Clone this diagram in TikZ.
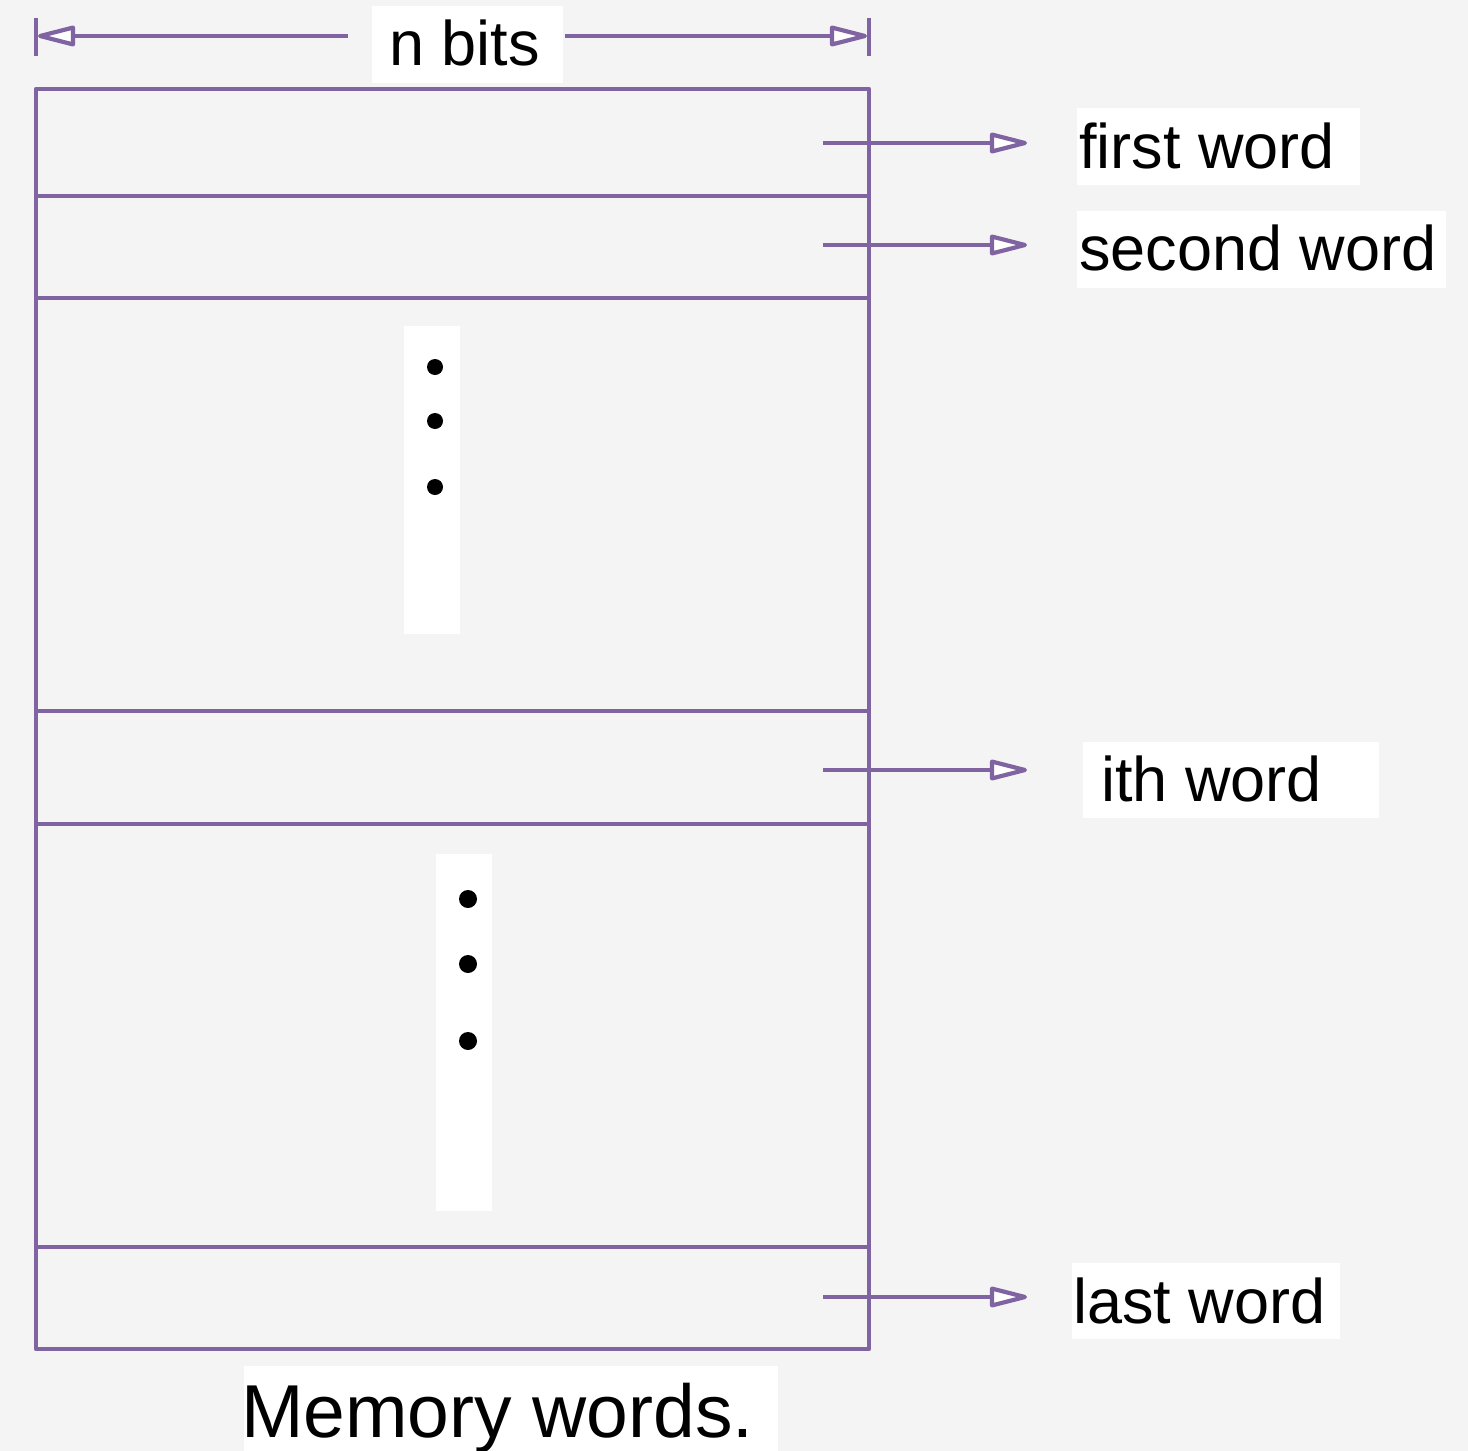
\documentclass[tikz,border=0pt]{standalone}
\usepackage{fontspec}
\setmainfont{Liberation Sans}
\usetikzlibrary{arrows.meta}
\definecolor{bg}{HTML}{F4F4F4}
\definecolor{pur}{HTML}{8064A2}
\begin{document}
\begin{tikzpicture}[x=1pt,y=-1pt,
  ln/.style={draw=pur,line width=4.2pt,line join=round},
  tip/.style={-{Triangle[length=44pt,width=21pt,fill=white,line join=round]}},
  lbl/.style={anchor=base west,inner sep=0pt,font=\fontsize{63}{70}\selectfont},
  wbox/.style={fill=white}]
\fill[bg] (0,0) rectangle (1468,1451);
\useasboundingbox (0,0) rectangle (1468,1451);
% white label backgrounds
\fill[wbox] (372,6) rectangle (563,83);
\fill[wbox] (1077,108) rectangle (1360,185);
\fill[wbox] (1077,211) rectangle (1446,288);
\fill[wbox] (1083,742) rectangle (1379,818);
\fill[wbox] (1072,1263) rectangle (1340,1339);
\fill[wbox] (244,1366) rectangle (778,1451);
\fill[wbox] (404,326) rectangle (460,634);
\fill[wbox] (436,854) rectangle (492,1211);
% memory box
\draw[ln] (36,89) rectangle (869,1349);
\foreach \y in {196,298,711,824,1247} \draw[ln] (36,\y) -- (869,\y);
% dimension
\coordinate (tl) at (38,36);
\coordinate (tr) at (867,36);
\coordinate (dl) at (348,36);
\coordinate (dr) at (565,36);
\draw[ln] (36,18) -- (36,56);
\draw[ln] (869,18) -- (869,56);
\draw[ln,tip] (dl) -- (tl);
\draw[ln,tip] (dr) -- (tr);
% labels
\node[lbl] (nb) at (389,65) {n bits};
\node[lbl] (w1) at (1079,168) {first word};
\node[lbl] (w2) at (1079,270) {second word};
\node[lbl] (wi) at (1101,801) {ith word};
\node[lbl] (wl) at (1073,1323) {last word};
\node[anchor=base west,inner sep=0pt,font=\fontsize{75}{80}\selectfont] (cap) at (241,1437) {Memory words.};
% word arrows
\foreach \n/\y in {a/143,b/245,c/770,d/1297}{
  \coordinate (s\n) at (823,\y);
  \coordinate (e\n) at (1027,\y);
  \draw[ln,tip] (s\n) -- (e\n);
}
% dots
\foreach \y in {367,421,487} \fill (435,\y) circle (8);
\foreach \y in {899,964,1041} \fill (468,\y) circle (9);
\end{tikzpicture}
\end{document}
